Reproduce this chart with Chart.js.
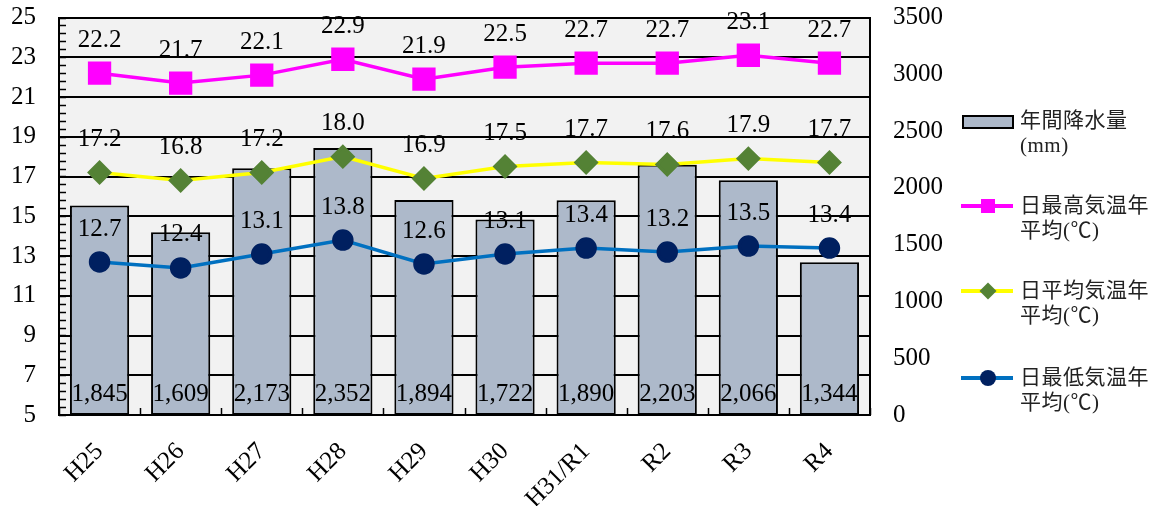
<!DOCTYPE html>
<html><head><meta charset="utf-8">
<script src="https://cdn.jsdelivr.net/npm/chart.js@4/dist/chart.umd.min.js"></script>
<style>
body{margin:0;background:#fff;}
#wrap{position:relative;width:1163px;height:506px;}
.lg{position:absolute;font-family:"Liberation Serif","Noto Sans CJK JP",serif;font-size:21px;line-height:25px;color:#222;letter-spacing:0.5px;}
</style></head><body>
<div id="wrap"><canvas id="c" width="1163" height="506"></canvas>
<div id="legend"></div></div>
<script>
const categories = ['H25','H26','H27','H28','H29','H30','H31/R1','R2','R3','R4'];
const rainfall = [1845,1609,2173,2352,1894,1722,1890,2203,2066,1344];
const maxTemp = [22.2,21.7,22.1,22.9,21.9,22.5,22.7,22.7,23.1,22.7];
const meanTemp = [17.2,16.8,17.2,18.0,16.9,17.5,17.7,17.6,17.9,17.7];
const minTemp = [12.7,12.4,13.1,13.8,12.6,13.1,13.4,13.2,13.5,13.4];
const leftTicks = [5,7,9,11,13,15,17,19,21,23,25];
const rightTicks = [0,500,1000,1500,2000,2500,3000,3500];
const seriesNames = ['年間降水量\n(mm)','日最高気温年\n平均(℃)','日平均気温年\n平均(℃)','日最低気温年\n平均(℃)'];

const FONT = '"Liberation Serif", serif';
const FS = 25;

const bgPlugin = {
  id:'bg',
  beforeDraw(chart){
    const {ctx, chartArea:a} = chart;
    ctx.save(); ctx.fillStyle='#f2f2f2';
    ctx.fillRect(a.left,a.top,a.right-a.left,a.bottom-a.top);
    ctx.restore();
  },
  afterDatasetsDraw(chart){
    const {ctx, chartArea:a} = chart;
    const y = chart.scales.y, x = chart.scales.x;
    ctx.save();
    ctx.strokeStyle='#000'; ctx.lineWidth=1.5;
    for(let v=y.min; v<=y.max+1e-9; v+=0.4){
      const py = Math.round(y.getPixelForValue(v))+0.5;
      ctx.beginPath(); ctx.moveTo(a.left,py); ctx.lineTo(a.left+7,py); ctx.stroke();
    }
    const n = categories.length;
    for(let i=0;i<=n;i++){
      const px = Math.round(x.getPixelForValue(i-0.5))+0.5;
      ctx.beginPath(); ctx.moveTo(px,a.bottom); ctx.lineTo(px,a.bottom-7); ctx.stroke();
    }
    ctx.fillStyle='#000'; ctx.font=FS+'px '+FONT; ctx.textAlign='center'; ctx.textBaseline='middle';
    chart.data.datasets.forEach((ds,di)=>{
      const meta = chart.getDatasetMeta(di);
      meta.data.forEach((el,i)=>{
        const v = ds.data[i];
        if(ds.type==='bar'){
          ctx.fillText(v.toLocaleString('en-US'), el.x, el.base-21);
        } else {
          ctx.fillText(v.toFixed(1), el.x, el.y-33);
        }
      });
    });
    ctx.restore();
  }
};

function noPad(s){ s.paddingTop=0; s.paddingBottom=0; }

new Chart(document.getElementById('c'),{
  data:{
    labels:categories,
    datasets:[
      {type:'line',label:seriesNames[1],data:maxTemp,yAxisID:'y',borderColor:'#ff00ff',backgroundColor:'#ff00ff',borderWidth:3.5,pointStyle:'rect',pointRadius:14,pointHoverRadius:14,tension:0,order:0},
      {type:'line',label:seriesNames[2],data:meanTemp,yAxisID:'y',borderColor:'#ffff00',backgroundColor:'#548235',pointBorderColor:'#548235',borderWidth:3.5,pointStyle:'rectRot',pointRadius:10,pointHoverRadius:10,tension:0,order:1},
      {type:'line',label:seriesNames[3],data:minTemp,yAxisID:'y',borderColor:'#0070c0',backgroundColor:'#002060',pointBorderColor:'#002060',borderWidth:3.5,pointStyle:'circle',pointRadius:9,pointHoverRadius:9,tension:0,order:2},
      {type:'bar',label:seriesNames[0],data:rainfall,yAxisID:'y2',backgroundColor:'#adb9ca',borderColor:'#000',borderWidth:2,borderSkipped:false,barPercentage:0.73,categoryPercentage:1,order:3}
    ]
  },
  options:{
    responsive:false,animation:false,
    layout:{padding:{left:0,right:213,top:14,bottom:0}},
    plugins:{legend:{display:false},tooltip:{enabled:false}},
    scales:{
      x:{offset:true,grid:{display:false},border:{display:true,color:'#000',width:2},
        ticks:{color:'#000',font:{family:FONT,size:FS},minRotation:45,maxRotation:45,padding:14},
        afterFit(s){s.height=91; s.paddingLeft=0; s.paddingRight=0;}},
      y:{position:'left',min:5,max:25,
        afterBuildTicks(s){s.ticks=leftTicks.map(v=>({value:v}));},
        grid:{color:'#000',lineWidth:2,drawTicks:false},border:{display:true,color:'#000',width:2},
        ticks:{color:'#000',font:{family:FONT,size:FS},padding:23},
        afterFit(s){s.width=59; noPad(s);}},
      y2:{position:'right',min:0,max:3500,
        afterBuildTicks(s){s.ticks=rightTicks.map(v=>({value:v}));},
        grid:{display:false,drawTicks:false},border:{display:true,color:'#000',width:2},
        ticks:{color:'#000',font:{family:FONT,size:FS},padding:23,callback:(v)=>String(v)},
        afterFit(s){s.width=80; noPad(s);}}
    }
  },
  plugins:[bgPlugin]
});

const legend = document.getElementById('legend');
const items = [
  {y:121, kind:'bar'},
  {y:206, kind:'line', line:'#ff00ff', mk:'sq'},
  {y:291, kind:'line', line:'#ffff00', mk:'dia'},
  {y:378, kind:'line', line:'#0070c0', mk:'circ'}
];
items.forEach((it,i)=>{
  const sw = document.createElement('div');
  sw.style.position='absolute';
  if(it.kind==='bar'){
    Object.assign(sw.style,{left:'962px',top:(it.y-6)+'px',width:'48px',height:'10px',background:'#adb9ca',border:'2px solid #000'});
    legend.appendChild(sw);
  } else {
    Object.assign(sw.style,{left:'961px',top:(it.y-2)+'px',width:'52px',height:'4px',background:it.line});
    legend.appendChild(sw);
    const m = document.createElement('div'); m.style.position='absolute';
    if(it.mk==='sq') Object.assign(m.style,{left:'981px',top:(it.y-7)+'px',width:'14px',height:'14px',background:'#ff00ff'});
    if(it.mk==='dia') Object.assign(m.style,{left:'982px',top:(it.y-6)+'px',width:'12px',height:'12px',background:'#548235',transform:'rotate(45deg)'});
    if(it.mk==='circ') Object.assign(m.style,{left:'980px',top:(it.y-8)+'px',width:'16px',height:'16px',background:'#002060',borderRadius:'50%'});
    legend.appendChild(m);
  }
  const t = document.createElement('div'); t.className='lg';
  t.style.left='1020px'; t.style.top=(it.y-13)+'px';
  t.innerHTML = seriesNames[i].split('\n').join('<br>');
  legend.appendChild(t);
});
</script></body></html>
